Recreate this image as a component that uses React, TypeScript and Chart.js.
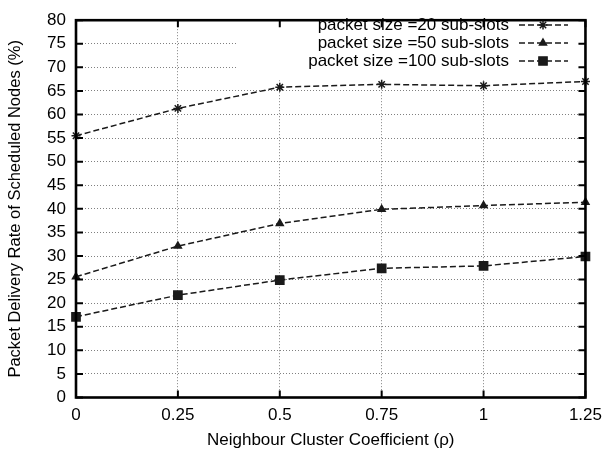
import React, { useEffect, useRef } from 'react';
import { Chart, registerables } from 'chart.js';
import { drawPoint } from 'chart.js/helpers';

Chart.register(...registerables);

// ---- data ----
const xValues = [0, 0.25, 0.5, 0.75, 1, 1.25];
const series20 = [55.5, 61.3, 65.8, 66.4, 66.1, 67.0];
const series50 = [25.6, 32.1, 36.9, 39.9, 40.7, 41.4];
const series100 = [17.1, 21.7, 24.9, 27.4, 27.9, 29.9];
const seriesLabels = [
  'packet size =20 sub-slots',
  'packet size =50 sub-slots',
  'packet size =100 sub-slots',
];
const xTickValues = [0, 0.25, 0.5, 0.75, 1, 1.25];
const yTickValues = [0, 5, 10, 15, 20, 25, 30, 35, 40, 45, 50, 55, 60, 65, 70, 75, 80];
const xTitle = 'Neighbour Cluster Coefficient (\u03c1)';
const yTitle = 'Packet Delivery Rate of Scheduled Nodes (%)';

const FONT = '"Liberation Sans", Arial, Helvetica, sans-serif';
const LINE_COLOR = '#1a1a1a';

const markerStyles = [
  { pointStyle: 'star', radius: 4.5 },
  { pointStyle: 'triangle', radius: 4 },
  { pointStyle: 'rect', radius: 5.8 },
];

const legendBox = {
  id: 'legendBox',
  beforeDatasetsDraw(chart: any) {
    const { ctx, chartArea } = chart;
    ctx.save();
    ctx.fillStyle = '#ffffff';
    ctx.fillRect(238, chartArea.top, chartArea.right - 238, 60);
    ctx.restore();
  },
  afterDraw(chart: any) {
    const { ctx, chartArea, scales } = chart;
    const xs = scales.x;
    const ys = scales.y;
    ctx.save();
    // frame
    ctx.strokeStyle = '#000';
    ctx.lineWidth = 2.6;
    ctx.setLineDash([]);
    ctx.strokeRect(chartArea.left, chartArea.top, chartArea.right - chartArea.left, chartArea.bottom - chartArea.top);
    // inward ticks
    ctx.lineWidth = 2;
    const tl = 7;
    ctx.beginPath();
    yTickValues.forEach((v) => {
      const y = ys.getPixelForValue(v);
      ctx.moveTo(chartArea.left, y);
      ctx.lineTo(chartArea.left + tl, y);
      ctx.moveTo(chartArea.right, y);
      ctx.lineTo(chartArea.right - tl, y);
    });
    xTickValues.forEach((v) => {
      const x = xs.getPixelForValue(v);
      ctx.moveTo(x, chartArea.bottom);
      ctx.lineTo(x, chartArea.bottom - tl);
      ctx.moveTo(x, chartArea.top);
      ctx.lineTo(x, chartArea.top + tl);
    });
    ctx.stroke();
    // legend entries
    ctx.font = `17px ${FONT}`;
    ctx.fillStyle = '#000';
    ctx.textAlign = 'right';
    ctx.textBaseline = 'middle';
    const rowY = [25, 43, 61];
    seriesLabels.forEach((label, i) => {
      const y = rowY[i];
      ctx.fillStyle = '#000';
      ctx.fillText(label, 509, y);
      ctx.strokeStyle = LINE_COLOR;
      ctx.lineWidth = 1.5;
      ctx.setLineDash([6, 3]);
      ctx.beginPath();
      ctx.moveTo(519, y);
      ctx.lineTo(568, y);
      ctx.stroke();
      ctx.setLineDash([]);
      ctx.fillStyle = LINE_COLOR;
      ctx.strokeStyle = LINE_COLOR;
      ctx.lineWidth = 1.5;
      drawPoint(ctx, { pointStyle: markerStyles[i].pointStyle, radius: markerStyles[i].radius, rotation: 0, borderWidth: 1.5 } as any, 543, y);
    });
    ctx.restore();
  },
};

export default function App() {
  const ref = useRef<HTMLCanvasElement>(null);
  useEffect(() => {
    if (!ref.current) return;
    const seriesData = [series20, series50, series100];
    const chart = new Chart(ref.current, {
      type: 'line',
      data: {
        datasets: seriesData.map((vals, i) => ({
          label: seriesLabels[i],
          data: xValues.map((x, j) => ({ x, y: vals[j] })),
          borderColor: LINE_COLOR,
          backgroundColor: LINE_COLOR,
          borderWidth: 1.5,
          borderDash: [6, 3],
          pointStyle: markerStyles[i].pointStyle as any,
          pointRadius: markerStyles[i].radius,
          pointBorderWidth: 1.5,
          pointBorderColor: LINE_COLOR,
          pointBackgroundColor: LINE_COLOR,
          tension: 0,
          clip: false as any,
        })),
      },
      options: {
        animation: false,
        responsive: false,
        events: [],
        layout: { padding: { left: 0, top: 10, right: 23, bottom: 0 } },
        plugins: { legend: { display: false }, tooltip: { enabled: false } },
        scales: {
          x: {
            type: 'linear',
            min: 0,
            max: 1.25,
            afterBuildTicks: (s: any) => {
              s.ticks = xTickValues.map((v) => ({ value: v }));
            },
            afterFit: (s: any) => {
              s.height = 56.5;
            },
            ticks: {
              color: '#000',
              font: { family: FONT, size: 17 },
              padding: 8,
              maxRotation: 0,
              autoSkip: false,
              callback: (v: any) => String(v),
            },
            grid: { color: '#808080', lineWidth: 1, drawTicks: false },
            border: { display: false, dash: [1, 2] },
            title: {
              display: true,
              text: xTitle,
              color: '#000',
              font: { family: FONT, size: 17 },
              padding: { top: 0, bottom: 3 },
            },
          },
          y: {
            type: 'linear',
            min: 0,
            max: 80,
            afterBuildTicks: (s: any) => {
              s.ticks = yTickValues.map((v) => ({ value: v }));
            },
            afterFit: (s: any) => {
              s.width = 76;
            },
            ticks: {
              color: '#000',
              font: { family: FONT, size: 17 },
              padding: 10,
              autoSkip: false,
              callback: (v: any) => String(v),
            },
            grid: { color: '#808080', lineWidth: 1, drawTicks: false },
            border: { display: false, dash: [1, 2] },
            title: {
              display: true,
              text: yTitle,
              color: '#000',
              font: { family: FONT, size: 16.5 },
              padding: { top: 6, bottom: 0 },
            },
          },
        },
      },
      plugins: [legendBox],
    });
    return () => chart.destroy();
  }, []);
  return (
    <div style={{ position: 'absolute', left: 0, top: 0, width: 610, height: 454, background: '#fff' }}>
      <canvas ref={ref} width={610} height={454} style={{ width: 610, height: 454, display: 'block' }} />
    </div>
  );
}
